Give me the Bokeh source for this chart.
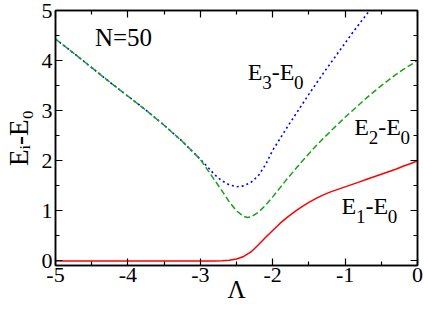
import math
from bokeh.plotting import figure
from bokeh.models import Range1d, FixedTicker, LinearAxis, Label
from bokeh.embed import file_html
from bokeh.resources import INLINE

# ---------------- data ----------------
lam_e1 = [-5.0, -2.8, -2.7, -2.6, -2.5, -2.4, -2.3, -2.2, -2.1, -2.0, -1.9, -1.8, -1.7,
          -1.6, -1.5, -1.4, -1.3, -1.2, -1.1, -1.0, -0.9, -0.8, -0.7, -0.6, -0.5,
          -0.4, -0.3, -0.2, -0.1, 0.0]
e1 = [0.0, 0.0, 0.005, 0.015, 0.04, 0.09, 0.18, 0.32, 0.47, 0.61, 0.75, 0.87, 0.98,
      1.08, 1.17, 1.25, 1.32, 1.38, 1.43, 1.48, 1.53, 1.58, 1.63, 1.68, 1.73,
      1.78, 1.83, 1.89, 1.94, 2.0]

lam_e2 = [-5.0, -4.75, -4.5, -4.25, -4.0, -3.75, -3.5, -3.25, -3.0, -2.9, -2.8, -2.7,
          -2.6, -2.5, -2.4, -2.35, -2.3, -2.2, -2.1, -2.0, -1.9, -1.8, -1.7, -1.6,
          -1.5, -1.4, -1.3, -1.2, -1.1, -1.0, -0.9, -0.8, -0.7, -0.6, -0.5, -0.4,
          -0.3, -0.2, -0.1, 0.0]
e2 = [4.43, 4.15, 3.86, 3.57, 3.29, 3.01, 2.71, 2.39, 2.03, 1.82, 1.61, 1.40,
      1.18, 1.00, 0.89, 0.87, 0.88, 0.97, 1.11, 1.28, 1.46, 1.64, 1.81, 1.98,
      2.14, 2.30, 2.45, 2.59, 2.73, 2.87, 3.00, 3.13, 3.26, 3.38, 3.50, 3.61,
      3.72, 3.82, 3.91, 4.0]

lam_e3 = [-5.0, -4.75, -4.5, -4.25, -4.0, -3.75, -3.5, -3.25, -3.0, -2.9, -2.8, -2.7,
          -2.6, -2.5, -2.4, -2.3, -2.2, -2.1, -2.0, -1.9, -1.8, -1.7, -1.6, -1.5,
          -1.4, -1.3, -1.2, -1.1, -1.0, -0.9, -0.8, -0.7, -0.6, -0.5]
e3 = [4.43, 4.15, 3.86, 3.57, 3.29, 3.01, 2.71, 2.39, 2.03, 1.88, 1.72, 1.60,
      1.52, 1.48, 1.50, 1.57, 1.70, 1.92, 2.21, 2.44, 2.67, 2.89, 3.11, 3.33,
      3.54, 3.75, 3.95, 4.15, 4.35, 4.55, 4.74, 4.93, 5.12, 5.31]

x_ticks = [-5, -4, -3, -2, -1, 0]
x_tick_labels = ["-5", "-4", "-3", "-2", "-1", "0"]
x_minor = [-4.5, -3.5, -2.5, -1.5, -0.5]
y_ticks = [0, 1, 2, 3, 4, 5]
y_tick_labels = ["0", "1", "2", "3", "4", "5"]
y_minor = [0.5, 1.5, 2.5, 3.5, 4.5]
x_title = "Λ"
y_title = "Eᵢ-E₀"

X0, X1 = -5.0, 0.0
Y0, Y1 = -0.09, 5.0

FONT = "Liberation Serif"

# ---------------- figure ----------------
W, H = 424, 310
p = figure(width=W, height=H, x_range=Range1d(X0, X1), y_range=Range1d(Y0, Y1),
           output_backend="svg", toolbar_location=None,
           min_border_left=50, min_border_right=7, min_border_top=10, min_border_bottom=45)
p.background_fill_color = "white"
p.border_fill_color = "white"
p.outline_line_color = "black"
p.outline_line_width = 1.5
p.xgrid.visible = False
p.ygrid.visible = False

bottom_ax = p.below[0]
left_ax = p.left[0]

def style_axis(ax, ticks, minor, labels, show_labels, standoff):
    ax.ticker = FixedTicker(ticks=ticks, minor_ticks=minor)
    ax.major_tick_in = 7
    ax.major_tick_out = 0
    ax.minor_tick_in = 4
    ax.minor_tick_out = 0
    ax.axis_line_color = "black"
    ax.axis_line_width = 1.5
    ax.major_tick_line_color = "black"
    ax.major_tick_line_width = 1.2
    ax.minor_tick_line_color = "black"
    ax.minor_tick_line_width = 1.2
    ax.major_label_text_font = FONT
    ax.major_label_text_color = "black"
    ax.major_label_standoff = standoff
    if show_labels:
        ax.major_label_overrides = {t: l for t, l in zip(ticks, labels)}
        ax.major_label_text_font_size = "22px"
    else:
        ax.major_label_overrides = {t: "" for t in ticks}
        ax.major_label_text_font_size = "1px"

style_axis(bottom_ax, x_ticks, x_minor, x_tick_labels, True, 2)
style_axis(left_ax, y_ticks, y_minor, y_tick_labels, True, 3)
top_ax = LinearAxis()
style_axis(top_ax, x_ticks, x_minor, x_tick_labels, False, 0)
p.add_layout(top_ax, "above")
right_ax = LinearAxis()
style_axis(right_ax, y_ticks, y_minor, y_tick_labels, False, 0)
p.add_layout(right_ax, "right")

bottom_ax.axis_label = x_title
bottom_ax.axis_label_text_font = FONT
bottom_ax.axis_label_text_font_style = "normal"
bottom_ax.axis_label_text_font_size = "25px"
bottom_ax.axis_label_text_color = "black"
bottom_ax.axis_label_standoff = -9

left_ax.axis_label = y_title
left_ax.axis_label_text_font = FONT
left_ax.axis_label_text_font_style = "normal"
left_ax.axis_label_text_font_size = "27px"
left_ax.axis_label_text_color = "black"
left_ax.axis_label_standoff = 5

# ---------------- curves ----------------
p.line(lam_e3, e3, line_color="#0000ff", line_width=1.6, line_dash="2 3")
p.line(lam_e2, e2, line_color="#18a018", line_width=1.5, line_dash="6 3")
p.line(lam_e1, e1, line_color="#ff0000", line_width=1.5)

# ---------------- text ----------------
FL, FR, FT, FB = 50.0, 417.0, 10.0, 265.0

def dx(px):
    return X0 + (px - FL) * (X1 - X0) / (FR - FL)

def dy(py):
    return Y1 - (py - FT) * (Y1 - Y0) / (FB - FT)

ADV = {"E": 0.611, "-": 0.333, "i": 0.278, "0": 0.5, "1": 0.5, "2": 0.5, "3": 0.5}

def tw(s, size):
    return sum(ADV.get(c, 0.5) for c in s) * size

def mid_from_baseline(base_px, size):
    # vertical middle of the em box, given the wanted baseline (page pixels)
    return base_px - 0.3375 * size

MAIN, SUB, DROP = 24, 19, 8

def composed(pieces, x_px, base_px):
    for txt, is_sub in pieces:
        size = SUB if is_sub else MAIN
        drop = DROP if is_sub else 0
        p.add_layout(Label(x=dx(x_px), y=dy(mid_from_baseline(base_px + drop, size)),
                           text=txt, text_font=FONT, text_font_size=f"{size}px",
                           text_color="black", text_align="left",
                           text_baseline="middle"))
        x_px += tw(txt, size)

def e_label(n):
    return [("E", False), (n, True), ("-E", False), ("0", True)]

composed(e_label("3"), 245, 80)
composed(e_label("2"), 353, 135)
composed(e_label("1"), 340, 214)

p.add_layout(Label(x=dx(90), y=dy(mid_from_baseline(45, 25)), text="N=50", text_font=FONT,
                   text_font_size="25px",
                   text_color="black", text_align="left", text_baseline="middle"))

open("out.html", "w").write(file_html(p, INLINE))
